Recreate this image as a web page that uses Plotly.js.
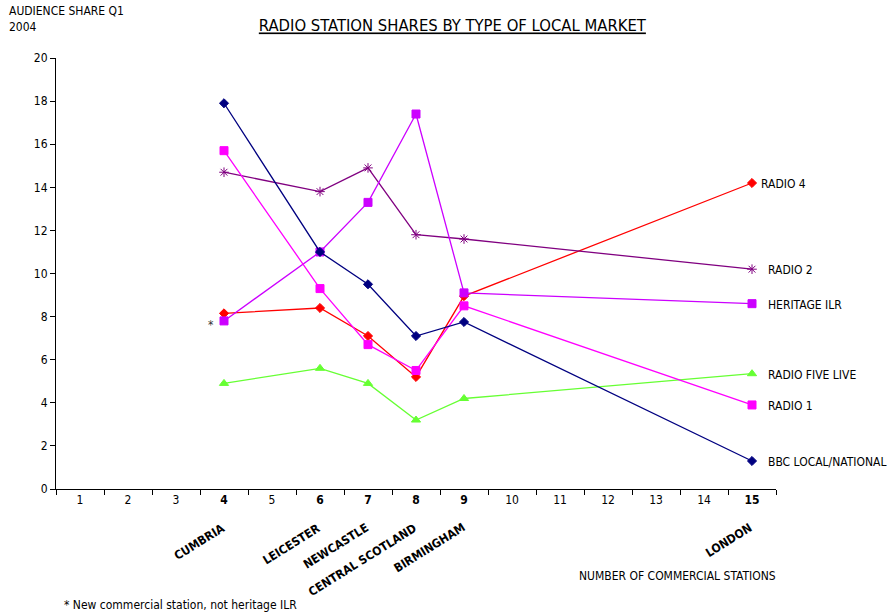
<!DOCTYPE html>
<html><head><meta charset="utf-8">
<script src="https://cdn.plot.ly/plotly-3.0.1.min.js"></script>
<style>body{margin:0;background:#fff}#chart{width:887px;height:612px}</style>
</head><body><div id="chart"></div>
<script>
const categories = ['1','2','3','4','5','6','7','8','9','10','11','12','13','14','15'];
const boldCats = ['4','6','7','8','9','15'];
const marketNames = ['CUMBRIA','LEICESTER','NEWCASTLE','CENTRAL SCOTLAND','BIRMINGHAM','LONDON'];
const xPoints = ['4','6','7','8','9','15'];

const bbcLocal = [17.9, 11.0, 9.5, 7.1, 7.75, 1.3];
const radio1 = [15.7, 9.3, 6.7, 5.5, 8.5, 3.9];
const heritageILR = [7.8, 11.0, 13.3, 17.4, 9.1, 8.6];
const radio2 = [14.7, 13.8, 14.9, 11.8, 11.6, 10.2];
const radio4 = [8.15, 8.4, 7.1, 5.2, 8.95, 14.2];
const fiveLive = [4.9, 5.6, 4.9, 3.2, 4.2, 5.35];

const FONT = 'Tahoma, "DejaVu Sans Condensed", "DejaVu Sans", sans-serif';
const idx = c => categories.indexOf(c);

const series = [
  {name:'RADIO 4', y:radio4, color:'#FF0000', symbol:'diamond', size:7, lx:7},
  {name:'RADIO 2', y:radio2, color:'#800080', symbol:'asterisk-open', size:8, lx:14},
  {name:'HERITAGE ILR', y:heritageILR, color:'#CC00FF', symbol:'square', size:8, lx:14},
  {name:'RADIO FIVE LIVE', y:fiveLive, color:'#66FF33', symbol:'triangle-up', size:8, lx:14},
  {name:'RADIO 1', y:radio1, color:'#FF00FF', symbol:'square', size:8, lx:14},
  {name:'BBC LOCAL/NATIONAL', y:bbcLocal, color:'#000080', symbol:'diamond', size:7, lx:14}
];

const traces = series.map(s => ({
  type:'scatter', mode:'lines+markers', x:xPoints, y:s.y, name:s.name,
  line:{color:s.color, width:1.3},
  marker:{color:s.color, symbol:s.symbol, size:s.size, line:{color:s.color, width:1}},
  cliponaxis:false
}));

const annotations = [];
series.forEach(s => {
  annotations.push({xref:'x', yref:'y', x:idx(xPoints[xPoints.length-1]), y:s.y[s.y.length-1], text:s.name,
    showarrow:false, xanchor:'left', yanchor:'middle', xshift:s.lx, yshift:-1,
    font:{family:FONT, size:12, color:'#000'}});
});
xPoints.forEach((c,i) => {
  annotations.push({xref:'x', yref:'paper', x:idx(c), y:-0.067, text:'<b>'+marketNames[i]+'</b>',
    showarrow:false, xanchor:'right', yanchor:'top', xshift:6, textangle:-32,
    font:{family:FONT, size:12, color:'#000'}});
});
annotations.push({xref:'paper', yref:'paper', x:-0.068, y:1.13, text:'AUDIENCE SHARE Q1<br>2004',
  showarrow:false, xanchor:'left', yanchor:'top', align:'left', font:{family:FONT, size:12, color:'#000'}});
annotations.push({xref:'paper', yref:'paper', x:1.003, y:-0.202, text:'NUMBER OF COMMERCIAL STATIONS',
  showarrow:false, xanchor:'right', yanchor:'middle', font:{family:FONT, size:12, color:'#000'}});
annotations.push({xref:'paper', yref:'paper', x:0.008, y:-0.268, text:'* New commercial station, not heritage ILR',
  showarrow:false, xanchor:'left', yanchor:'middle', font:{family:FONT, size:12, color:'#000'}});
annotations.push({xref:'x', yref:'y', x:idx(xPoints[0]), y:heritageILR[0], text:'*',
  showarrow:false, xanchor:'center', yanchor:'middle', xshift:-13, yshift:-4,
  font:{family:FONT, size:12, color:'#333'}});

const layout = {
  width:887, height:612,
  margin:{l:56, r:111, t:58, b:123},
  paper_bgcolor:'#fff', plot_bgcolor:'#fff',
  showlegend:false,
  title:{text:'<span style="text-decoration:underline">RADIO STATION SHARES BY TYPE OF LOCAL MARKET</span>',
    x:0.51, xanchor:'center', y:0.958, yanchor:'middle', font:{family:FONT, size:16.5, color:'#000'}},
  xaxis:{type:'category', categoryorder:'array', categoryarray:categories,
    tickvals:categories, ticktext:categories.map(c => boldCats.includes(c) ? '<b>'+c+'</b>' : c),
    tickson:'boundaries', ticks:'outside', ticklen:5, tickcolor:'#000',
    range:[-0.5, 14.5], showline:true, linecolor:'#000', linewidth:1, showgrid:false, zeroline:false,
    tickfont:{family:FONT, size:12, color:'#000'}, fixedrange:true},
  yaxis:{range:[0,20], dtick:2, ticks:'outside', ticklen:5, tickcolor:'#000',
    showline:true, linecolor:'#000', linewidth:1, showgrid:false, zeroline:false,
    tickfont:{family:FONT, size:12, color:'#000'}, fixedrange:true},
  annotations:annotations
};

Plotly.newPlot('chart', traces, layout, {displayModeBar:false, staticPlot:true});
</script></body></html>
